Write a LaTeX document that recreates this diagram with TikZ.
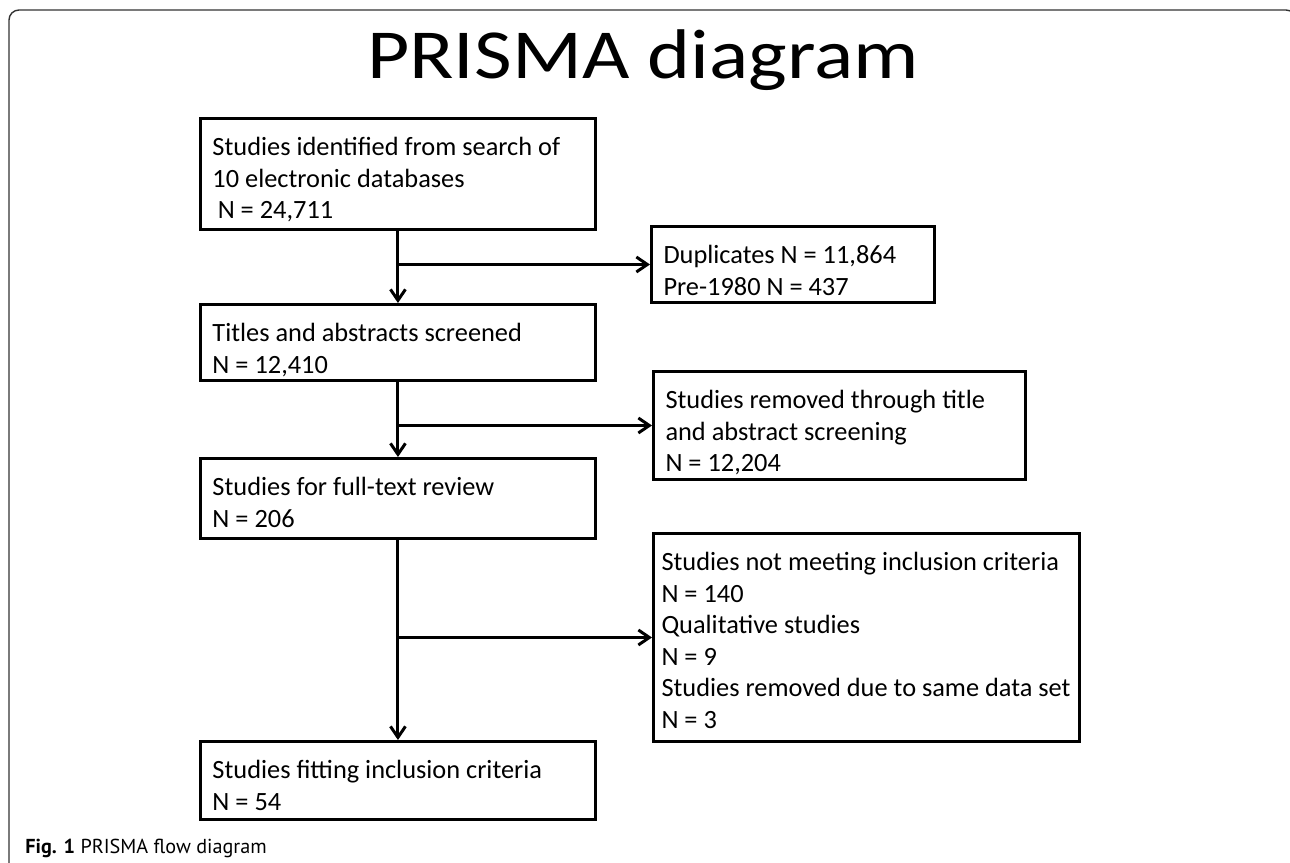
\documentclass[tikz,border=0pt]{standalone}
\usepackage{fontspec}
\setmainfont{Carlito}
\newfontfamily\capfont{PT Sans}
\usetikzlibrary{arrows.meta, positioning}
\tikzset{
  blk/.style={rectangle,draw=black,line width=1.7pt,anchor=north west,
              align=flush left,inner xsep=0.24cm,inner ysep=0pt,text height=0.74cm,
              font=\fontsize{15}{18}\selectfont},
  arr/.style={-{Straight Barb[length=0.22cm,width=0.3cm]},line width=1.7pt},
  frm/.style={draw=black!80,line width=0.8pt,rounded corners=0.2cm},
}
\begin{document}
\begin{tikzpicture}[x=0.02cm,y=-0.02cm]
  \useasboundingbox (0,0) rectangle (1290,862);
  \draw[frm](9,900)--(9,10)--(1296,10)--(1296,900);
  \node[anchor=base,inner sep=0pt,font=\fontsize{40}{48}\selectfont](ttl) at (643,78)
    {\scalebox{1.165}[1]{PRISMA diagram}};
  % left column
  \node[blk,text width=7.42cm,text depth=1.48cm](ident) at (199,117)
    {Studies identified from search of\\10 electronic databases\\\hspace*{3pt}N = 24,711};
  \node[blk,text width=7.42cm,text depth=0.78cm](screen) at (199,303)
    {Titles and abstracts screened\\N = 12,410};
  \node[blk,text width=7.42cm,text depth=0.86cm](full) at (199,457)
    {Studies for full-text review\\N = 206};
  \node[blk,text width=7.42cm,text depth=0.82cm](incl) at (199,740)
    {Studies fitting inclusion criteria\\N = 54};
  % right column
  \node[blk,text width=5.18cm,text depth=0.78cm](dup) at (650,225)
    {Duplicates N = 11,864\\Pre-1980 N = 437};
  \node[blk,text width=6.96cm,text depth=1.42cm](rmv) at (652,370)
    {Studies removed through title\\and abstract screening\\N = 12,204};
  \node[blk,text width=8.2cm,inner xsep=0.16cm,text depth=3.42cm](excl) at (652,532)
    {Studies not meeting inclusion criteria\\N = 140\\Qualitative studies\\N = 9\\Studies removed due to same data set\\N = 3};
  \foreach \a/\b in {ident/screen,screen/full,full/incl}
    \draw[arr](\a)--(\b);
  \foreach \a/\b/\j in {ident/dup/j1,screen/rmv/j2,full/excl/j3}{
    \coordinate(\j) at (\a.south |- \b.west);
    \draw[arr](\j)--(\b.west);
  }
  \node[anchor=base west,inner sep=0pt,font=\capfont\fontsize{11.5}{14}\selectfont](cap) at (25,853)
    {\textbf{Fig. 1} PRISMA flow diagram};
\end{tikzpicture}
\end{document}
